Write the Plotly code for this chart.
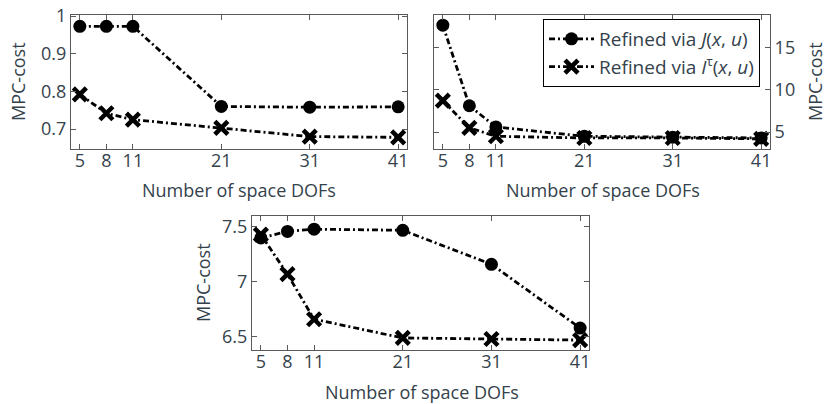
import plotly.graph_objects as go

dofs = [5, 8, 11, 21, 31, 41]
tick_labels = ["5", "8", "11", "21", "31", "41"]

# Panel 1
p1_J = [0.973, 0.973, 0.973, 0.760, 0.758, 0.759]
p1_I = [0.792, 0.742, 0.725, 0.703, 0.680, 0.678]
p1_ticks = [0.7, 0.8, 0.9, 1.0]
p1_ticktext = ["0.7", "0.8", "0.9", "1"]
# Panel 2
p2_J = [17.6, 8.1, 5.6, 4.5, 4.4, 4.3]
p2_I = [8.7, 5.5, 4.5, 4.3, 4.3, 4.2]
p2_ticks = [5, 10, 15]
# Panel 3
p3_J = [7.40, 7.46, 7.48, 7.47, 7.16, 6.58]
p3_I = [7.43, 7.07, 6.66, 6.49, 6.48, 6.47]
p3_ticks = [6.5, 7.0, 7.5]
p3_ticktext = ["6.5", "7", "7.5"]

name_J = "Refined via <i>J</i>(<i>x</i>, <i>u</i>)"
name_I = "Refined via <i>I</i><sup>τ</sup>(<i>x</i>, <i>u</i>)"

W, H = 829, 404
TXT = "#34424c"
AX = "#5a5a5a"
FONT = "Open Sans"
FS = 18

dash = "6px,3px,2px,3px"

fig = go.Figure()

def add_panel(xa, ya, J, I, show):
    fig.add_trace(go.Scatter(
        x=dofs, y=J, xaxis=xa, yaxis=ya, mode="lines+markers", name=name_J,
        line=dict(color="black", width=2.8, dash=dash),
        marker=dict(symbol="circle", size=13, color="black"),
        showlegend=show))
    fig.add_trace(go.Scatter(
        x=dofs, y=I, xaxis=xa, yaxis=ya, mode="lines+markers", name=name_I,
        line=dict(color="black", width=2.8, dash=dash),
        marker=dict(symbol="x-thin", size=13, color="black",
                    line=dict(color="black", width=4.5)),
        showlegend=show))

add_panel("x", "y", p1_J, p1_I, False)
add_panel("x2", "y2", p2_J, p2_I, True)
add_panel("x3", "y3", p3_J, p3_I, False)

def px_x(a, b):
    return [a / W, b / W]

def px_y(top, bottom):
    return [(H - bottom) / H, (H - top) / H]

common_axis = dict(
    showline=True, linecolor=AX, linewidth=1, mirror="allticks",
    ticks="inside", ticklen=5, tickcolor=AX, tickwidth=1,
    showgrid=False, zeroline=False, automargin=False,
    tickmode="array", ticklabeloverflow="allow",
    tickfont=dict(family=FONT, size=FS, color=TXT),
)

xcommon = dict(common_axis, tickvals=dofs, ticktext=tick_labels,
               range=[4.0, 42.0], ticklabelstandoff=-5)

fig.update_layout(
    width=W, height=H,
    margin=dict(l=0, r=0, t=0, b=0, pad=0, autoexpand=False),
    paper_bgcolor="white", plot_bgcolor="white",
    font=dict(family=FONT, size=FS, color=TXT),
    xaxis=dict(xcommon, domain=px_x(71, 407), anchor="y"),
    yaxis=dict(common_axis, domain=px_y(15, 149), anchor="x",
               range=[0.647, 1.003], tickvals=p1_ticks, ticktext=p1_ticktext),
    xaxis2=dict(xcommon, domain=px_x(434, 770), anchor="y2"),
    yaxis2=dict(common_axis, domain=px_y(15, 149), anchor="x2", side="right",
                range=[3.0, 18.8], tickvals=p2_ticks,
                ticktext=[str(v) for v in p2_ticks]),
    xaxis3=dict(xcommon, domain=px_x(252, 589), anchor="y3"),
    yaxis3=dict(common_axis, domain=px_y(216, 350), anchor="x3",
                range=[6.38, 7.6], tickvals=p3_ticks, ticktext=p3_ticktext),
    legend=dict(x=760 / W, y=(H - 19) / H, xanchor="right", yanchor="top",
                bgcolor="white", bordercolor="black", borderwidth=1,
                font=dict(family=FONT, size=19, color=TXT),
                tracegroupgap=0, itemwidth=45),
)

def ann(text, x, y, rot=0):
    fig.add_annotation(text=text, x=x / W, y=(H - y) / H, xref="paper", yref="paper",
                       showarrow=False, textangle=rot, xanchor="center", yanchor="middle",
                       font=dict(family=FONT, size=FS, color=TXT))

ann("Number of space DOFs", 239, 190)
ann("Number of space DOFs", 603, 190)
ann("Number of space DOFs", 422, 392)
ann("MPC-cost", 18, 82, -90)
ann("MPC-cost", 815, 82, -90)
ann("MPC-cost", 203, 283, -90)

fig.write_html("out.html")
